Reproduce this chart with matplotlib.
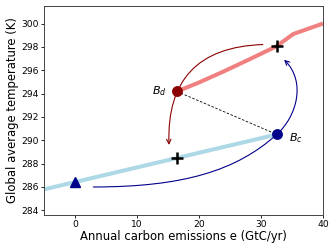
import matplotlib
matplotlib.use("Agg")
import matplotlib.pyplot as plt
from matplotlib.path import Path
from matplotlib.patches import FancyArrowPatch

# thick branches
hot_x = [16.45, 20.0, 24.0, 28.0, 32.5, 35.2, 40.0]
hot_y = [294.18, 294.95, 295.9, 296.9, 298.05, 299.1, 300.0]
cold_x = [-6.0, 32.55]
cold_y = [285.67, 290.5]

# special points
Bd = (16.45, 294.18)
Bc = (32.55, 290.5)
start_pt = (0.0, 286.4)
plus_x = [32.5, 16.5]
plus_y = [298.05, 288.45]

# red transition arrow (start, end)
red_start = (30.3, 298.2)
red_end = (15.16, 289.6)
# blue transition arrow: bezier control points
blue_ctrl_x = [2.96, 17.54, 26.07, 32.55, 35.79, 37.30, 33.73]
blue_ctrl_y = [286.00, 286.00, 287.41, 290.5, 292.06, 295.01, 296.90]

fs_tick = 6.6
fs_lab = 8.4
fig = plt.figure(figsize=(3.36, 2.52), dpi=100)
ax = fig.add_axes([44/336, 1-215/252, (323-44)/336, (215-6)/252])

ax.plot(cold_x, cold_y, color='lightblue', lw=2.9, solid_capstyle='butt', zorder=2)
ax.plot(hot_x, hot_y, color='lightcoral', lw=2.9, solid_capstyle='butt', zorder=2)
ax.plot([Bd[0], Bc[0]], [Bd[1], Bc[1]], color='black', ls='--', lw=0.6, dashes=(3, 2), zorder=3)

red_arrow = FancyArrowPatch(red_start, red_end, connectionstyle='arc3,rad=0.5',
                            arrowstyle='->', color='darkred', lw=0.8,
                            shrinkA=0, shrinkB=0, mutation_scale=8, zorder=3)
ax.add_patch(red_arrow)

codes = [Path.MOVETO] + [Path.CURVE4] * 6
blue_path = Path(list(zip(blue_ctrl_x, blue_ctrl_y)), codes)
blue_arrow = FancyArrowPatch(path=blue_path, arrowstyle='->', color='darkblue', lw=0.8,
                             mutation_scale=8, zorder=3)
ax.add_patch(blue_arrow)

ax.plot([Bd[0]], [Bd[1]], 'o', color='darkred', ms=6.8, zorder=4)
ax.plot([Bc[0]], [Bc[1]], 'o', color='darkblue', ms=6.8, zorder=4)
ax.plot([start_pt[0]], [start_pt[1]], '^', color='darkblue', ms=7.5, zorder=4)
ax.plot(plus_x, plus_y, '+', color='black', ms=8.5, mew=1.8, zorder=5)

ax.text(Bd[0] - 1.7, Bd[1], '$B_d$', ha='right', va='center', fontsize=8)
ax.text(Bc[0] + 2.0, Bc[1] - 0.3, '$B_c$', ha='left', va='center', fontsize=8)

ax.set_xlim(-5, 40)
ax.set_ylim(283.6, 301.5)
ax.set_xticks([0, 10, 20, 30, 40])
ax.set_yticks([284, 286, 288, 290, 292, 294, 296, 298, 300])
ax.tick_params(labelsize=fs_tick, length=2, width=0.6, pad=1.5)
ax.set_xlabel('Annual carbon emissions e (GtC/yr)', fontsize=fs_lab, labelpad=1)
ax.set_ylabel('Global average temperature (K)', fontsize=fs_lab, labelpad=2)
for s in ax.spines.values():
    s.set_color('#444444')
    s.set_linewidth(0.7)

fig.savefig('out.png', dpi=100)
